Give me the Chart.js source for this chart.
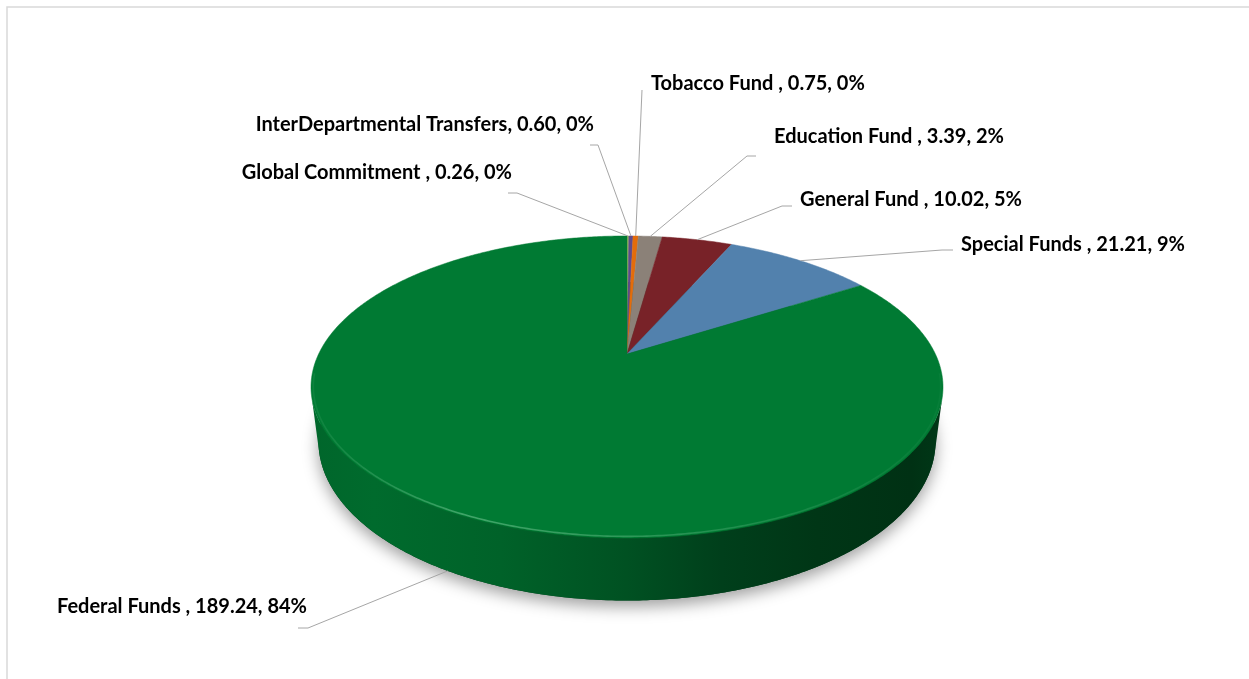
<!DOCTYPE html>
<html>
<head>
<meta charset="utf-8">
<title>Funding sources</title>
<script src="https://cdn.jsdelivr.net/npm/chart.js@4.4.1/dist/chart.umd.min.js"></script>
<style>
  html, body { margin: 0; padding: 0; background: #ffffff; overflow: hidden; }
  #wrap { position: relative; width: 1249px; height: 679px; }
</style>
</head>
<body>
<div id="wrap"><canvas id="chart" width="1249" height="679"></canvas></div>
<script>
// ---- data ----
const categories = ['Global Commitment ', 'InterDepartmental Transfers', 'Tobacco Fund ', 'Education Fund ', 'General Fund ', 'Special Funds ', 'Federal Funds '];
const amounts = [0.26, 0.60, 0.75, 3.39, 10.02, 21.21, 189.24];
const percentLabels = ['0%', '0%', '0%', '2%', '5%', '9%', '84%'];

// ---- styling ----
const sliceColors = ['#9BBB59', '#5F4B8B', '#E46C0A', '#8B8178', '#782228', '#5281AD', '#007A33'];

// label layout: bend of each leader line, x of its short tail, text anchor [x, y, align]
const leaderBends = [[517, 193], [598, 145], [642, 90], [747, 156], [782, 206], [942, 250], [308, 628]];
const leaderTails = [508, 590, 642, 756, 792, 953, 298];
const textAnchors = [[512, 173, 'right'], [594, 125, 'right'], [651, 84, 'left'], [774, 137, 'left'], [800, 200, 'left'], [961, 245, 'left'], [307, 607, 'right']];

const LABEL_FONT = 'bold 20px Lato';

// ---- 3D view of the pie ----
const TILT = 27.8 * Math.PI / 180;   // elevation of the viewer
const CAM = 4.05;                     // viewer distance, in pie radii
const DEPTH = 0.2;                    // pie thickness, in pie radii

function makeProjector(cx, cy, radius) {
  const s = Math.sin(TILT), c = Math.cos(TILT);
  const sm = c / CAM;
  const widest = Math.sqrt(1 - sm * sm) / (CAM - c * sm);
  const f = radius / widest;
  return function (theta, h, r) {
    r = r === undefined ? 1 : r;
    const X = r * Math.cos(theta), Z = r * Math.sin(theta);
    const v = Z * s - h * c;
    const d = CAM - Z * c - h * s;
    return [cx + f * X / d, cy + f * v / d];
  };
}

function shade(hex, k) {
  const n = parseInt(hex.slice(1), 16);
  const r = Math.round(((n >> 16) & 255) * k);
  const g = Math.round(((n >> 8) & 255) * k);
  const b = Math.round((n & 255) * k);
  return 'rgb(' + r + ',' + g + ',' + b + ')';
}

function arcPoints(proj, a0, a1, h, r) {
  const pts = [];
  const n = Math.max(2, Math.ceil(Math.abs(a1 - a0) / 0.01));
  for (let i = 0; i <= n; i++) pts.push(proj(a0 + (a1 - a0) * i / n, h, r));
  return pts;
}

const pie3d = {
  id: 'pie3d',
  beforeDraw(chart) {
    const ctx = chart.ctx;
    ctx.save();
    ctx.fillStyle = '#ffffff';
    ctx.fillRect(0, 0, chart.width, chart.height);
    ctx.strokeStyle = '#D9D9D9';
    ctx.lineWidth = 1.5;
    ctx.strokeRect(7, 7, 1400, 900);
    ctx.restore();
  },
  beforeDatasetsDraw(chart) {
    const ctx = chart.ctx;
    const meta = chart.getDatasetMeta(0);
    const first = meta.data[0];
    const cx = first.x, cy = first.y, R = first.outerRadius;
    const proj = makeProjector(cx, cy, R);
    const sideFrom = Math.asin(1 / (CAM * Math.cos(TILT)));
    const sideTo = Math.PI - sideFrom;

    ctx.save();

    // soft shadow below the pie
    const base = arcPoints(proj, 0, Math.PI * 2, -DEPTH, 1);
    ctx.save();
    ctx.shadowColor = 'rgba(0,0,0,0.38)';
    ctx.shadowBlur = 16;
    ctx.shadowOffsetY = 6;
    ctx.beginPath();
    base.forEach((p, i) => i ? ctx.lineTo(p[0], p[1]) : ctx.moveTo(p[0], p[1]));
    ctx.closePath();
    ctx.fillStyle = '#003D1A';
    ctx.fill();
    ctx.restore();

    // outer walls of the slices facing the viewer
    meta.data.forEach((arc, i) => {
      const color = chart.data.datasets[0].backgroundColor[i];
      for (let k = -1; k <= 1; k++) {
        const lo = Math.max(arc.startAngle, sideFrom + 2 * Math.PI * k);
        const hi = Math.min(arc.endAngle, sideTo + 2 * Math.PI * k);
        if (hi <= lo) continue;
        const top = arcPoints(proj, lo, hi, 0, 1);
        const bottom = arcPoints(proj, hi, lo, -DEPTH, 1);
        const g = ctx.createLinearGradient(cx - R, 0, cx + R, 0);
        g.addColorStop(0.00, shade(color, 0.84));
        g.addColorStop(0.10, shade(color, 0.88));
        g.addColorStop(0.30, shade(color, 0.80));
        g.addColorStop(0.50, shade(color, 0.66));
        g.addColorStop(0.65, shade(color, 0.52));
        g.addColorStop(0.80, shade(color, 0.44));
        g.addColorStop(0.95, shade(color, 0.40));
        g.addColorStop(1.00, shade(color, 0.46));
        ctx.beginPath();
        top.concat(bottom).forEach((p, j) => j ? ctx.lineTo(p[0], p[1]) : ctx.moveTo(p[0], p[1]));
        ctx.closePath();
        ctx.fillStyle = g;
        ctx.fill();
      }
    });

    // top faces
    meta.data.forEach((arc, i) => {
      const color = chart.data.datasets[0].backgroundColor[i];
      const rim = arcPoints(proj, arc.startAngle, arc.endAngle, 0, 1);
      ctx.beginPath();
      ctx.moveTo(cx, cy);
      rim.forEach(p => ctx.lineTo(p[0], p[1]));
      ctx.closePath();
      ctx.fillStyle = color;
      ctx.fill();
      ctx.strokeStyle = color;
      ctx.lineWidth = 0.5;
      ctx.stroke();
    });

    // bevel highlight along the front rim of the top face
    const glow = ctx.createLinearGradient(cx - R, 0, cx + R, 0);
    glow.addColorStop(0.0, 'rgba(120,200,150,0.10)');
    glow.addColorStop(0.25, 'rgba(120,200,150,0.55)');
    glow.addColorStop(0.55, 'rgba(120,200,150,0.35)');
    glow.addColorStop(1.0, 'rgba(120,200,150,0.05)');
    ctx.beginPath();
    arcPoints(proj, sideFrom - 0.15, sideTo + 0.15, 0, 0.993).forEach((p, j) => j ? ctx.lineTo(p[0], p[1]) : ctx.moveTo(p[0], p[1]));
    ctx.strokeStyle = glow;
    ctx.lineWidth = 1.6;
    ctx.stroke();

    // leader lines and labels
    ctx.lineWidth = 1;
    ctx.strokeStyle = '#A6A6A6';
    ctx.font = LABEL_FONT;
    ctx.fillStyle = '#000000';
    ctx.textBaseline = 'middle';
    meta.data.forEach((arc, i) => {
      const mid = (arc.startAngle + arc.endAngle) / 2;
      const norm = ((mid % (2 * Math.PI)) + 2 * Math.PI) % (2 * Math.PI);
      const onWall = norm > sideFrom && norm < sideTo;
      const a = proj(mid, onWall ? -DEPTH : 0, 1);
      const b = leaderBends[i];
      ctx.beginPath();
      ctx.moveTo(a[0], a[1]);
      ctx.lineTo(b[0], b[1]);
      ctx.lineTo(leaderTails[i], b[1]);
      ctx.stroke();
      const t = textAnchors[i];
      ctx.textAlign = t[2];
      const text = chart.data.labels[i] + ', ' + amounts[i].toFixed(2) + ', ' + percentLabels[i];
      ctx.fillText(text, t[0], t[1]);
    });

    ctx.restore();
    return false;
  }
};

function build() {
  new Chart(document.getElementById('chart'), {
    type: 'pie',
    data: {
      labels: categories,
      datasets: [{
        data: amounts,
        backgroundColor: sliceColors,
        borderWidth: 0
      }]
    },
    options: {
      responsive: false,
      animation: false,
      devicePixelRatio: 1,
      events: [],
      layout: { padding: { left: 5, right: 0, top: 38, bottom: 9 } },
      plugins: {
        legend: { display: false },
        tooltip: { enabled: false }
      }
    },
    plugins: [pie3d]
  });
}

if (document.fonts && document.fonts.load) {
  document.fonts.load(LABEL_FONT).then(build, build);
} else {
  build();
}
</script>
</body>
</html>
